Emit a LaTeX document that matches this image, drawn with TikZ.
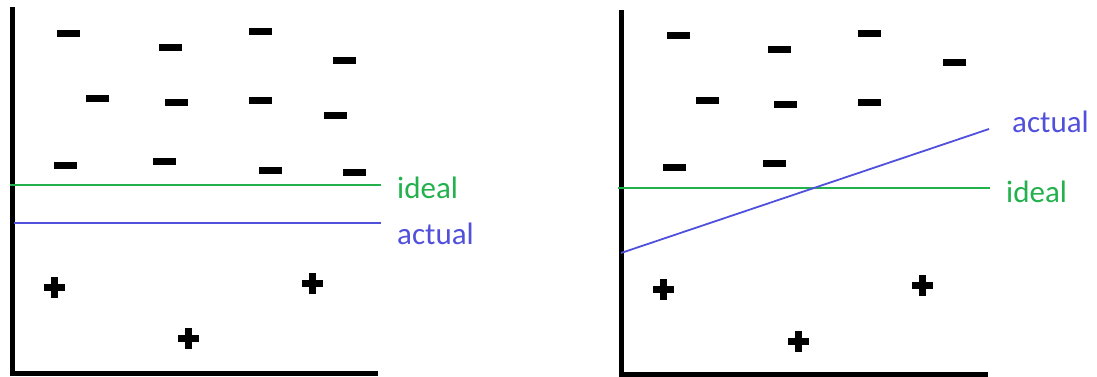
\documentclass[tikz,border=0pt]{standalone}
\usepackage{fontspec}
\setmainfont{Carlito}
\definecolor{idealgreen}{RGB}{34,177,76}
\definecolor{actualblue}{RGB}{80,80,220}
\tikzset{
  axisline/.style={line width=5pt},
  minussign/.style={fill=black, minimum width=23pt, minimum height=7pt, inner sep=0pt},
  plusbar/.style={fill=black},
  idealline/.style={idealgreen, line width=1.8pt},
  actualline/.style={actualblue, line width=1.8pt},
  linelabel/.style={anchor=west, inner sep=0pt, font=\fontsize{31}{37}\selectfont},
  pics/plussign/.style={code={
    \fill[plusbar] (-3.5,-10.5) rectangle (3.5,10.5);
    \fill[plusbar] (-10.5,-3.5) rectangle (10.5,3.5);
  }}
}
\begin{document}
\begin{tikzpicture}[x=1pt, y=-1pt]
  \useasboundingbox (0,0) rectangle (1097,377);

  % ---- left panel: threshold only shifted ----
  \draw[axisline] (12,7) -- (12,373) -- (378,373);
  % negative samples
  \foreach \px/\py [count=\i] in {68/34,170/48,260/32,344/61,97/99,176/103,
      260/101,335/116,65/165,164/161,270/170,354/172}
    \node[minussign] (lm\i) at (\px,\py) {};
  % positive samples
  \foreach \px/\py [count=\i] in {54/287,312/283,188/338}
    \pic (lp\i) at (\px,\py) {plussign};
  % boundaries
  \coordinate (lgA) at (10,185);
  \coordinate (lgB) at (381,185);
  \coordinate (lbA) at (14,223);
  \coordinate (lbB) at (381,223);
  \draw[idealline] (lgA) -- (lgB);
  \draw[actualline] (lbA) -- (lbB);
  \node[linelabel, idealgreen] (lideal) at (397,188) {ideal};
  \node[linelabel, actualblue] (lactual) at (397,234) {actual};

  % ---- right panel: tilted boundary ----
  \draw[axisline] (621,10) -- (621,374) -- (988,374);
  % negative samples
  \foreach \px/\py [count=\i] in {678/36,779/50,869/34,954/63,707/101,785/105,
      869/103,674/167,774/163}
    \node[minussign] (rm\i) at (\px,\py) {};
  % positive samples
  \foreach \px/\py [count=\i] in {663/289,922/285,798/341}
    \pic (rp\i) at (\px,\py) {plussign};
  % boundaries
  \coordinate (rgA) at (618,188);
  \coordinate (rgB) at (990,188);
  \coordinate (rbA) at (621,253);
  \coordinate (rbB) at (989,129);
  \draw[idealline] (rgA) -- (rgB);
  \draw[actualline] (rbA) -- (rbB);
  \node[linelabel, idealgreen] (rideal) at (1006,192) {ideal};
  \node[linelabel, actualblue] (ractual) at (1012,122) {actual};
\end{tikzpicture}
\end{document}
